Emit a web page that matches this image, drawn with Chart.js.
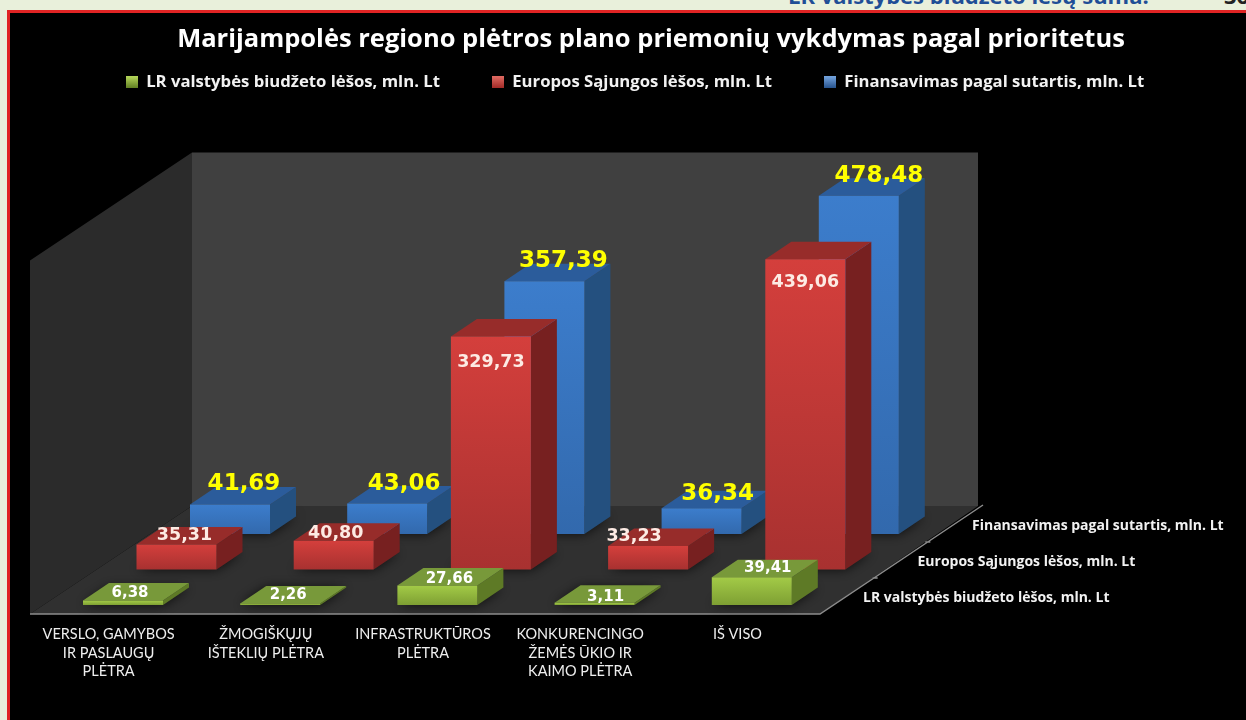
<!DOCTYPE html>
<html>
<head>
<meta charset="utf-8">
<script src="https://cdn.jsdelivr.net/npm/chart.js@4"></script>
<style>
  html, body { margin: 0; padding: 0; width: 1246px; height: 720px; overflow: hidden; background: #e9f0db; }
  #panel { position: absolute; left: 7px; top: 10px; right: 0; bottom: 0; background: #000; border-left: 3px solid #e02424; border-top: 3px solid #e02424; }
  #lineChart { position: absolute; left: 0; top: 0; }
  .cut { position: absolute; top: -20px; font: bold 22px "Open Sans", sans-serif; white-space: nowrap; }
</style>
</head>
<body>
<div class="cut" style="left:788px;color:#1f4e96">LR valstybės biudžeto lėšų suma:</div>
<div class="cut" style="left:1224px;color:#222">36</div>
<div id="panel"></div>
<canvas id="lineChart" width="1246" height="720"></canvas>
<script>
var categories = [
    ['VERSLO, GAMYBOS', 'IR PASLAUGŲ', 'PLĖTRA'],
    ['ŽMOGIŠKŲJŲ', 'IŠTEKLIŲ PLĖTRA'],
    ['INFRASTRUKTŪROS', 'PLĖTRA'],
    ['KONKURENCINGO', 'ŽEMĖS ŪKIO IR', 'KAIMO PLĖTRA'],
    ['IŠ VISO']
];
var seriesNames = ['LR valstybės biudžeto lėšos, mln. Lt', 'Europos Sąjungos lėšos, mln. Lt', 'Finansavimas pagal sutartis, mln. Lt'];
var biudzetas = [6.38, 2.26, 27.66, 3.11, 39.41];
var es = [35.31, 40.80, 329.73, 33.23, 439.06];
var sutartys = [41.69, 43.06, 357.39, 36.34, 478.48];

// look of each series, front to back
var looks = [
    { front: ['#a3cb47', '#7e9f33'], side: '#5e7a26', top: '#78993a', label: '#ffffff', font: 'bold 15px "DejaVu Sans"' },
    { front: ['#d43f3c', '#a83130'], side: '#772020', top: '#972c2a', label: '#fdebe4', font: 'bold 17.5px "DejaVu Sans"' },
    { front: ['#3c7dcc', '#3269ad'], side: '#24507f', top: '#2b5c9b', label: '#ffff00', font: 'bold 23px "DejaVu Sans"' }
];
// labels were moved by hand in the original
var labelNudge = [
    [[7, -7], [8, -8], [12, -6], [11, -6], [16, -9]],
    [[8, -9], [2, -7], [0, 26], [-14, -10], [0, 23]],
    [[14, -20], [17, -20], [19, -20], [16, -14], [20, -20]]
];

var stepX = 53.5, stepY = 35.5;  // one series further back
var startX = 14.4, startY = 9;   // gap from the front edge
var deepX = 26, deepY = 17.5;    // depth of a bar
var wallX = 162, wallY = 108;

function poly(c, pts, fill) {
    c.beginPath();
    pts.forEach(function (p, i) { if (i) c.lineTo(p[0], p[1]); else c.moveTo(p[0], p[1]); });
    c.closePath();
    c.fillStyle = fill;
    c.fill();
}

function swatch(light, dark) {
    var cv = document.createElement('canvas');
    cv.width = 12; cv.height = 12;
    var c = cv.getContext('2d');
    var g = c.createLinearGradient(0, 0, 0, 12);
    g.addColorStop(0, light); g.addColorStop(1, dark);
    c.fillStyle = g;
    c.fillRect(0, 0, 12, 12);
    return cv;
}

var bars3d = {
    id: 'bars3d',
    beforeInit: function (chart) {
        // room between the legend and the walls
        var fit = chart.legend.fit;
        chart.legend.fit = function () {
            fit.call(this);
            this.height = 194.5;
        };
    },
    afterLayout: function (chart) {
        chart.titleBlock.left += 13; chart.titleBlock.right += 13;
        chart.legend.left -= 3; chart.legend.right -= 3;
        chart.legend.top = 22;
    },
    beforeDatasetsDraw: function (chart) {
        var c = chart.ctx, a = chart.chartArea, top = chart.scales.y.getPixelForValue(500);
        var fx = a.left, fy = a.bottom, rx = a.right + 4;
        poly(c, [[fx, fy], [fx + wallX, fy - wallY], [fx + wallX, top - wallY], [fx, top]], '#2b2b2b');
        poly(c, [[fx + wallX, fy - wallY], [a.right + wallX, fy - wallY], [a.right + wallX, top - wallY], [fx + wallX, top - wallY]], '#404040');
        poly(c, [[fx, fy], [rx, fy], [a.right + wallX, fy - wallY], [fx + wallX, fy - wallY]], '#303030');
        c.strokeStyle = '#8c8c8c';
        c.lineWidth = 1.5;
        c.beginPath();
        c.moveTo(fx, fy); c.lineTo(rx, fy); c.lineTo(a.right + wallX + 5, fy - wallY - 1);
        for (var s = 1; s < 3; s++) {
            var tx = rx + (a.right + wallX - rx) * s / 3, ty = fy - wallY * s / 3;
            c.moveTo(tx, ty); c.lineTo(tx + 5, ty);
        }
        c.stroke();
        // names of the depth axis
        c.font = 'bold 14px "Open Sans"';
        c.fillStyle = '#f2f2f2';
        c.textAlign = 'left';
        c.textBaseline = 'middle';
        seriesNames.forEach(function (name, s) {
            c.fillText(name, rx + 43 + 54.5 * s, fy - 16 - 36 * s);
        });
    },
    beforeDatasetDraw: function (chart, args) {
        var c = chart.ctx, s = args.index, look = looks[s];
        args.meta.data.forEach(function (bar) {
            var w = bar.width, x0 = bar.x - w / 2 + startX + stepX * s, x1 = x0 + w;
            var dy = startY + stepY * s, yb = bar.base - dy, yt = bar.y - dy;
            // soft shadow on the floor
            c.save();
            c.shadowColor = 'rgba(0,0,0,0.75)';
            c.shadowBlur = 12;
            poly(c, [[x0, yb], [x1, yb], [x1 + deepX, yb - deepY], [x0 + deepX, yb - deepY]], '#262626');
            c.restore();
            poly(c, [[x1, yb], [x1 + deepX, yb - deepY], [x1 + deepX, yt - deepY], [x1, yt]], look.side);
            poly(c, [[x0, yt], [x1, yt], [x1 + deepX, yt - deepY], [x0 + deepX, yt - deepY]], look.top);
            var g = c.createLinearGradient(0, yt, 0, yb);
            g.addColorStop(0, look.front[0]);
            g.addColorStop(1, look.front[1]);
            poly(c, [[x0, yb], [x1, yb], [x1, yt], [x0, yt]], g);
        });
        return false;
    },
    afterDatasetsDraw: function (chart) {
        var c = chart.ctx;
        c.textAlign = 'center';
        c.textBaseline = 'middle';
        [2, 1, 0].forEach(function (s) {
            var meta = chart.getDatasetMeta(s);
            c.font = looks[s].font;
            c.fillStyle = looks[s].label;
            meta.data.forEach(function (bar, i) {
                var value = chart.data.datasets[s].data[i].toFixed(2).replace('.', ',');
                var n = labelNudge[s][i];
                c.fillText(value, bar.x + startX + stepX * s + n[0], bar.y - startY - stepY * s + n[1]);
            });
        });
    }
};

var ctx = document.getElementById('lineChart').getContext('2d');
var myChart = new Chart(ctx, {
    type: 'bar',
    data: {
        labels: categories,
        datasets: [
            { label: seriesNames[0], data: biudzetas, backgroundColor: '#8fb53c', pointStyle: swatch('#b5d65a', '#5f7d22') },
            { label: seriesNames[1], data: es, backgroundColor: '#c63a38', pointStyle: swatch('#e06a62', '#a02825') },
            { label: seriesNames[2], data: sutartys, backgroundColor: '#3974c0', pointStyle: swatch('#74a4de', '#25518c') }
        ]
    },
    plugins: [bars3d],
    options: {
        responsive: false,
        animation: false,
        grouped: false,
        barThickness: 80,
        layout: { padding: { left: 30, top: 20 } },
        plugins: {
            tooltip: { enabled: false },
            title: {
                display: true,
                text: 'Marijampolės regiono plėtros plano priemonių vykdymas pagal prioritetus',
                color: '#ffffff',
                font: { family: '"Open Sans"', size: 25.5, weight: 'bold', lineHeight: 1.1 },
                padding: { top: 5.5, bottom: 12.5 }
            },
            legend: {
                labels: {
                    color: '#f2f2f2',
                    font: { family: '"Open Sans"', size: 16.7, weight: 'bold' },
                    usePointStyle: true,
                    boxWidth: 12,
                    boxHeight: 12,
                    padding: 52,
                    generateLabels: function (chart) {
                        return chart.data.datasets.map(function (d, i) {
                            return { text: d.label, pointStyle: d.pointStyle, datasetIndex: i, fontColor: '#f2f2f2' };
                        });
                    }
                }
            }
        },
        scales: {
            x: {
                grid: { display: false, drawTicks: false },
                border: { display: false },
                ticks: {
                    color: '#eeeeee',
                    autoSkip: false,
                    maxRotation: 0,
                    padding: 11,
                    font: { family: 'Lato', size: 14.5, lineHeight: 1.28 }
                },
                afterFit: function (scale) { scale.height = 106; }
            },
            y: {
                position: 'right',
                min: 0,
                max: 500,
                grid: { display: false },
                border: { display: false },
                ticks: { display: false },
                afterFit: function (scale) { scale.width = 430; }
            }
        }
    }
});
</script>
</body>
</html>
